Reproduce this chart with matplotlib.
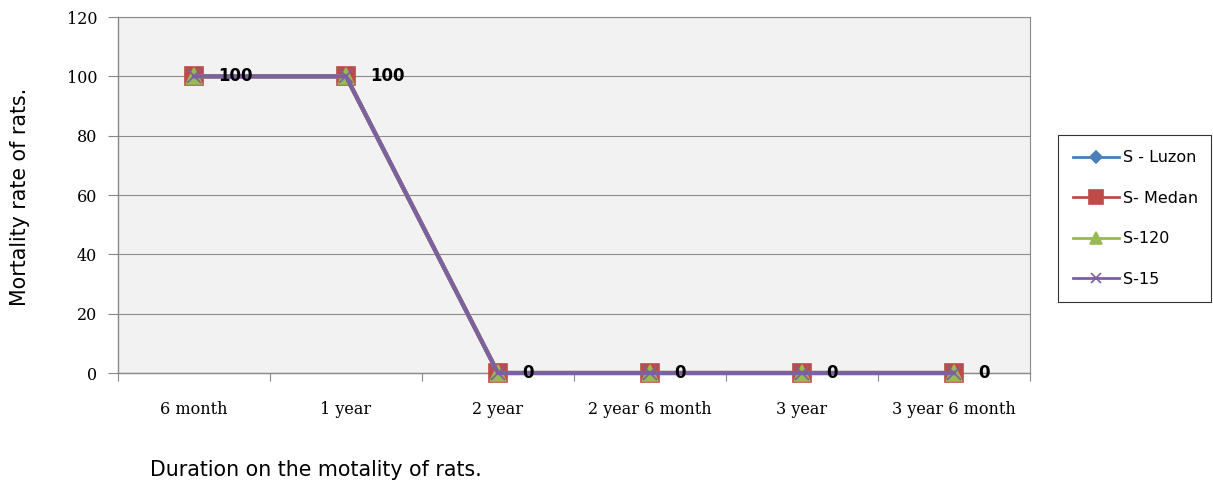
import matplotlib
matplotlib.use("Agg")
import matplotlib.pyplot as plt
import numpy as np

categories = ["6 month", "1 year", "2 year", "2 year 6 month", "3 year", "3 year 6 month"]
s_luzon = [100, 100, 0, 0, 0, 0]
s_medan = [100, 100, 0, 0, 0, 0]
s_120 = [100, 100, 0, 0, 0, 0]
s_15 = [100, 100, 0, 0, 0, 0]
labels_vals = [100, 100, 0, 0, 0, 0]

fig = plt.figure(figsize=(12.13, 4.88), dpi=100)
ax = fig.add_axes([118/1213, 1-373/488, (1030-118)/1213, (373-17)/488])
ax.set_facecolor("#f2f2f2")
x = np.arange(len(categories))

series = [
    ("S - Luzon", s_luzon, "#4a7ebb", "D", 8),
    ("S- Medan", s_medan, "#be4b48", "s", 12.5),
    ("S-120", s_120, "#98b954", "^", 11),
    ("S-15", s_15, "#7d60a0", "x", 10),
]
for name, vals, col, mk, ms in series:
    ax.plot(x, vals, color=col, lw=3, marker=mk, markersize=ms, label=name,
            markeredgecolor=col, markeredgewidth=1.2, zorder=3, clip_on=False)

for xi, v in zip(x, labels_vals):
    ax.annotate(str(v), (xi, v), xytext=(17.5, 0), textcoords="offset points",
                ha="left", va="center", fontsize=12, fontweight="bold",
                family="DejaVu Sans", zorder=5)

ax.set_xlim(-0.5, 5.5)
ax.set_ylim(0, 120)
ax.set_yticks(np.arange(0, 121, 20))
ax.yaxis.grid(True, color="#8c8c8c", lw=0.8)
ax.set_axisbelow(True)
ax.set_xticks(np.arange(-0.5, 5.6, 1))
ax.set_xticklabels([])
ax.set_xticks(x, minor=True)
ax.set_xticklabels(categories, minor=True, family="DejaVu Serif", fontsize=11.5)
ax.tick_params(axis="x", which="minor", length=0, pad=20)
ax.tick_params(axis="x", which="major", length=6, direction="out", color="#888888")
ax.tick_params(axis="y", length=7, direction="out", color="#888888", pad=8)
for lab in ax.get_yticklabels():
    lab.set_family("DejaVu Serif")
    lab.set_fontsize(11.5)
for s in ["top", "right"]:
    ax.spines[s].set_color("#888888")
    ax.spines[s].set_linewidth(0.8)
for s in ["left", "bottom"]:
    ax.spines[s].set_color("#888888")
    ax.spines[s].set_linewidth(1.0)

fig.text(20/1213, 1-197/488, "Mortality rate of rats.", fontsize=14.8, rotation=90,
         family="DejaVu Sans", ha="center", va="center")
fig.text(150/1213, 1-470/488, "Duration on the motality of rats.", fontsize=14.8,
         family="DejaVu Sans", ha="left", va="center")

leg = fig.legend(loc="upper left", bbox_to_anchor=(1058/1213, 1-300/488, 153/1213, 165/488),
                 mode="expand", frameon=True, fancybox=False, edgecolor="#000000",
                 handlelength=2.85, labelspacing=1.6, borderpad=0.95, handletextpad=0.25,
                 borderaxespad=0, markerscale=0.75,
                 prop={"family": "DejaVu Sans", "size": 11.5})
leg.get_frame().set_linewidth(0.8)
for h in leg.legend_handles:
    h.set_linewidth(2)

fig.savefig("out.png", dpi=100, facecolor="white")
